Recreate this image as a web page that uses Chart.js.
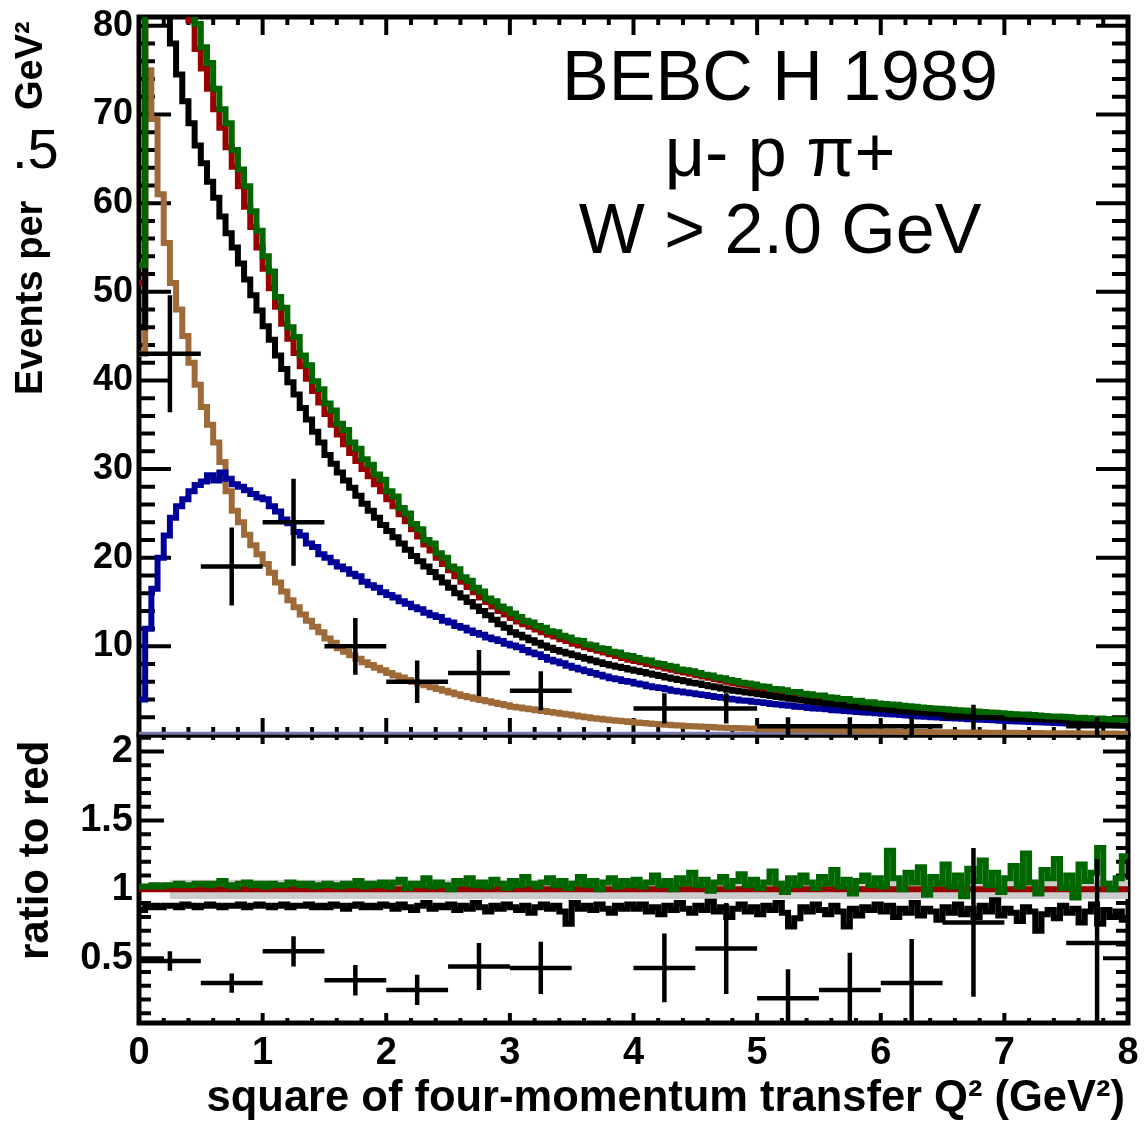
<!DOCTYPE html>
<html lang="en">
<head>
<meta charset="UTF-8">
<title>BEBC H 1989 - Q2 distribution</title>
<script src="https://cdn.jsdelivr.net/npm/chart.js"></script>
<style>
  html, body { margin: 0; padding: 0; background: #fff; }
  #wrap { width: 1144px; height: 1126px; }
</style>
</head>
<body>
<div id="wrap"><canvas id="q2Chart" width="1144" height="1126"></canvas></div>
<script>
// --- bins (lower edges, 0.05 GeV^2 wide) ---
const binWidth = 0.05;
const q2Max = 8;
const q2Low = Array.from({ length: 160 }, (_, i) => Math.round(i * binWidth * 100) / 100);

// --- MC histograms, top panel ---
const greenMC = [
  53, 175, 150, 130, 114, 103, 95, 88.5, 83.5, 80.2, 77.6, 75.8, 72.9, 70.6, 69.0, 66.0, 63.8, 61.9, 59.1, 56.9,
  54.0, 52.3, 49.4, 48.2, 46.0, 44.9, 42.8, 41.7, 39.9, 39.0, 37.4, 36.6, 35.1, 34.4, 33.0, 32.3, 31.1, 30.5, 29.4, 28.8,
  27.5, 26.9, 25.6, 25.0, 23.8, 23.2, 22.0, 21.6, 20.5, 20.0, 19.0, 18.7, 17.8, 17.4, 16.6, 16.2, 15.4, 15.1, 14.5, 14.2,
  13.7, 13.3, 12.9, 12.7, 12.3, 12.1, 11.7, 11.6, 11.2, 11.0, 10.7, 10.6, 10.2, 10.1, 9.8, 9.7, 9.4, 9.3, 9.0, 8.9,
  8.7, 8.5, 8.4, 8.1, 8.0, 7.8, 7.7, 7.4, 7.3, 7.2, 7.0, 6.8, 6.7, 6.5, 6.4, 6.2, 6.1, 5.9, 5.8, 5.7,
  5.5, 5.45, 5.2, 5.15, 5.05, 4.85, 4.85, 4.65, 4.6, 4.45, 4.45, 4.25, 4.2, 4.05, 4.05, 3.85, 3.85, 3.7, 3.7, 3.55,
  3.5, 3.45, 3.4, 3.3, 3.25, 3.2, 3.1, 3.05, 3.0, 2.95, 2.9, 2.85, 2.8, 2.75, 2.7, 2.65, 2.6, 2.55, 2.5, 2.45,
  2.4, 2.35, 2.3, 2.3, 2.25, 2.2, 2.15, 2.1, 2.1, 2.05, 2.0, 1.95, 1.95, 1.9, 1.85, 1.85, 1.8, 1.75, 1.75, 1.7
];
const redMC = [
  51, 170, 146, 126, 110, 100, 92, 85.5, 80.6, 77.4, 75.2, 72.9, 70.6, 68.5, 66.3, 64.1, 61.9, 59.6, 57.3, 55.0,
  52.6, 50.4, 48.3, 46.4, 44.7, 43.1, 41.6, 40.2, 38.8, 37.5, 36.2, 35.0, 33.9, 32.8, 31.8, 30.9, 30.0, 29.2, 28.3, 27.5,
  26.6, 25.8, 24.9, 24.1, 23.2, 22.4, 21.5, 20.8, 20.0, 19.3, 18.6, 17.9, 17.3, 16.7, 16.1, 15.5, 15.0, 14.5, 14.0, 13.6,
  13.2, 12.8, 12.5, 12.2, 11.9, 11.6, 11.3, 11.1, 10.8, 10.6, 10.3, 10.1, 9.9, 9.7, 9.5, 9.3, 9.1, 8.9, 8.7, 8.5,
  8.35, 8.2, 8.0, 7.85, 7.7, 7.5, 7.35, 7.2, 7.05, 6.9, 6.75, 6.6, 6.45, 6.3, 6.15, 6.0, 5.85, 5.7, 5.6, 5.45,
  5.3, 5.2, 5.1, 4.95, 4.85, 4.75, 4.65, 4.55, 4.45, 4.35, 4.25, 4.15, 4.05, 3.95, 3.85, 3.78, 3.7, 3.62, 3.55, 3.47,
  3.4, 3.33, 3.27, 3.2, 3.14, 3.08, 3.0, 2.95, 2.9, 2.85, 2.8, 2.75, 2.7, 2.65, 2.6, 2.55, 2.5, 2.45, 2.4, 2.36,
  2.32, 2.28, 2.24, 2.2, 2.16, 2.12, 2.08, 2.04, 2.0, 1.97, 1.94, 1.9, 1.87, 1.84, 1.8, 1.77, 1.74, 1.71, 1.68, 1.65
];
const blackMC = [
  46, 130, 108, 93, 83, 78, 74.5, 71.5, 69, 66.5, 64.5, 62.4, 60.6, 58.5, 56.6, 55.0, 53.2, 51.4, 49.6, 47.9,
  46.1, 44.6, 42.8, 41.3, 39.8, 38.4, 36.9, 35.6, 34.2, 33.0, 31.6, 30.6, 29.6, 28.7, 27.9, 27.0, 26.1, 25.3, 24.5, 23.7,
  23.0, 22.3, 21.6, 20.9, 20.2, 19.6, 19.0, 18.4, 17.8, 17.2, 16.6, 16.0, 15.5, 15.0, 14.5, 14.0, 13.5, 13.0, 12.5, 12.1,
  11.6, 11.3, 11.0, 10.7, 10.4, 10.1, 9.85, 9.6, 9.4, 9.2, 9.0, 8.8, 8.6, 8.4, 8.2, 8.0, 7.85, 7.7, 7.55, 7.4,
  7.25, 7.1, 6.95, 6.8, 6.65, 6.5, 6.35, 6.2, 6.05, 5.9, 5.8, 5.65, 5.5, 5.4, 5.25, 5.1, 5.0, 4.9, 4.8, 4.7,
  4.6, 4.5, 4.4, 4.3, 4.2, 4.1, 4.0, 3.9, 3.8, 3.72, 3.64, 3.56, 3.48, 3.4, 3.32, 3.25, 3.18, 3.11, 3.04, 2.97,
  2.9, 2.84, 2.78, 2.72, 2.66, 2.6, 2.55, 2.5, 2.45, 2.4, 2.35, 2.3, 2.26, 2.22, 2.18, 2.14, 2.1, 2.06, 2.02, 1.98,
  1.94, 1.9, 1.86, 1.83, 1.8, 1.77, 1.74, 1.71, 1.68, 1.65, 1.62, 1.59, 1.56, 1.53, 1.5, 1.47, 1.44, 1.42, 1.4, 1.38
];
const blueMC = [
  4.0, 12.0, 16.5, 20.0, 22.5, 24.5, 25.8, 26.6, 27.5, 28.2, 28.6, 29.3, 28.7, 29.6, 28.9, 28.3, 28.0, 27.6, 27.2, 26.8,
  26.6, 25.8, 25.2, 24.3, 23.9, 22.9, 22.5, 21.6, 21.2, 20.4, 20.0, 19.5, 19.0, 18.7, 18.2, 17.9, 17.3, 16.9, 16.6, 16.1,
  15.8, 15.5, 15.1, 14.8, 14.4, 14.2, 13.8, 13.5, 13.3, 12.9, 12.7, 12.3, 12.1, 11.8, 11.5, 11.3, 11.0, 10.8, 10.6, 10.3,
  10.1, 9.9, 9.6, 9.3, 9.1, 8.8, 8.5, 8.3, 8.1, 7.8, 7.6, 7.4, 7.2, 7.0, 6.8, 6.6, 6.4, 6.3, 6.1, 6.0,
  5.8, 5.7, 5.5, 5.4, 5.3, 5.15, 5.0, 4.9, 4.8, 4.7, 4.6, 4.5, 4.4, 4.3, 4.2, 4.1, 4.0, 3.9, 3.85, 3.75,
  3.7, 3.6, 3.5, 3.45, 3.35, 3.3, 3.2, 3.15, 3.05, 3.0, 2.95, 2.9, 2.8, 2.75, 2.7, 2.65, 2.6, 2.55, 2.5, 2.45,
  2.4, 2.35, 2.3, 2.25, 2.2, 2.15, 2.1, 2.05, 2.0, 1.97, 1.93, 1.9, 1.86, 1.82, 1.78, 1.75, 1.72, 1.68, 1.65, 1.62,
  1.58, 1.55, 1.52, 1.49, 1.46, 1.43, 1.4, 1.38, 1.35, 1.32, 1.3, 1.27, 1.25, 1.22, 1.2, 1.17, 1.15, 1.12, 1.1, 1.08
];
const brownMC = [
  43, 75, 69.5, 61, 55.5, 51, 48, 45, 42, 39.5, 37, 35, 33, 30.8, 27.5, 25.3, 24.0, 22.6, 21.4, 20.4,
  19.3, 18.3, 17.2, 16.2, 15.2, 14.4, 13.6, 12.9, 12.2, 11.6, 10.9, 10.4, 9.8, 9.4, 9.0, 8.6, 8.2, 7.9, 7.6, 7.3,
  7.0, 6.7, 6.5, 6.2, 6.0, 5.8, 5.6, 5.4, 5.2, 5.0, 4.8, 4.6, 4.4, 4.25, 4.1, 3.95, 3.8, 3.65, 3.5, 3.35,
  3.2, 3.1, 3.0, 2.9, 2.8, 2.7, 2.6, 2.5, 2.4, 2.3, 2.2, 2.1, 2.0, 1.9, 1.82, 1.74, 1.66, 1.6, 1.54, 1.47,
  1.4, 1.35, 1.3, 1.25, 1.2, 1.15, 1.1, 1.06, 1.02, 0.98, 0.95, 0.92, 0.89, 0.86, 0.83, 0.8, 0.78, 0.76, 0.74, 0.72,
  0.7, 0.68, 0.66, 0.64, 0.62, 0.6, 0.59, 0.57, 0.56, 0.54, 0.53, 0.51, 0.5, 0.49, 0.47, 0.46, 0.45, 0.44, 0.42, 0.41,
  0.4, 0.39, 0.38, 0.37, 0.36, 0.35, 0.34, 0.33, 0.32, 0.31, 0.31, 0.3, 0.29, 0.29, 0.28, 0.27, 0.27, 0.26, 0.26, 0.25,
  0.25, 0.24, 0.23, 0.23, 0.22, 0.22, 0.21, 0.21, 0.2, 0.2, 0.19, 0.19, 0.18, 0.18, 0.17, 0.17, 0.16, 0.16, 0.15, 0.15
];
const emptyMC = 0.2;   // the empty histogram sitting on the axis

// --- ratio to red, bottom panel ---
const greenRatio = [
  1.02, 1.02, 1.03, 1.02, 1.03, 1.03, 1.04, 1.03, 1.03, 1.04, 1.04, 1.03, 1.04, 1.06, 1.03, 1.02, 1.04, 1.05, 1.03, 1.04,
  1.02, 1.04, 1.03, 1.03, 1.05, 1.04, 1.03, 1.04, 1.02, 1.03, 1.04, 1.03, 1.02, 1.04, 1.03, 1.06, 1.02, 1.04, 1.03, 1.05,
  1.02, 1.05, 1.07, 1.01, 1.04, 1.03, 1.08, 1.02, 1.05, 1.03, 1.00, 1.06, 1.04, 1.08, 1.03, 1.05, 1.02, 1.07, 1.04, 1.01,
  1.06, 1.03, 1.09, 1.04, 1.02, 1.05, 1.08, 1.03, 1.06, 1.01, 1.04, 1.09, 1.03, 1.06, 1.00, 1.05, 1.08, 1.02, 1.06, 1.03,
  1.07, 1.02, 1.05, 1.10, 1.03, 1.06, 1.00, 1.08, 1.04, 1.12, 1.03, 1.07, 0.99, 1.05, 1.09, 1.02, 1.06, 1.11, 1.03, 1.07,
  1.01, 1.05, 1.13, 1.04, 0.98, 1.08, 1.03, 1.10, 1.05, 1.01, 1.09, 1.04, 1.14, 1.02, 1.07, 0.97, 1.06, 1.10, 1.03, 1.08,
  1.02, 1.28, 1.08, 1.00, 1.12, 1.05, 1.16, 0.96, 1.09, 1.04, 1.18, 1.02, 1.10, 0.95, 1.15, 1.06, 1.21, 1.03, 1.12, 0.98,
  1.08, 1.17, 1.02, 1.26, 1.05, 0.97, 1.14, 1.08, 1.22, 1.01, 1.10, 0.94, 1.18, 1.06, 1.12, 1.30, 1.04, 1.00, 1.08, 1.24
];
const blackRatio = [
  0.85, 0.87, 0.88, 0.87, 0.88, 0.88, 0.87, 0.89, 0.88, 0.87, 0.88, 0.89, 0.88, 0.87, 0.88, 0.88, 0.89, 0.87, 0.88, 0.89,
  0.88, 0.87, 0.88, 0.89, 0.87, 0.88, 0.88, 0.89, 0.87, 0.88, 0.87, 0.89, 0.88, 0.86, 0.88, 0.89, 0.87, 0.88, 0.87, 0.89,
  0.88, 0.86, 0.89, 0.87, 0.85, 0.88, 0.90, 0.86, 0.88, 0.87, 0.89, 0.85, 0.88, 0.86, 0.90, 0.87, 0.84, 0.88, 0.86, 0.89,
  0.87, 0.85, 0.88, 0.83, 0.87, 0.89, 0.86, 0.88, 0.84, 0.75, 0.90, 0.86, 0.88, 0.85, 0.89, 0.86, 0.83, 0.88, 0.86, 0.89,
  0.86, 0.89, 0.84, 0.87, 0.82, 0.88, 0.85, 0.90, 0.86, 0.83, 0.88, 0.85, 0.91, 0.84, 0.87, 0.80, 0.86, 0.89, 0.84, 0.87,
  0.82, 0.88, 0.85, 0.90, 0.83, 0.73, 0.79, 0.87, 0.84, 0.89, 0.85, 0.82, 0.88, 0.84, 0.73, 0.86, 0.81, 0.87, 0.85, 0.89,
  0.84, 0.88, 0.80, 0.86, 0.83, 0.90, 0.81, 0.86, 0.84, 0.78, 0.87, 0.83, 0.89, 0.82, 0.86, 0.80, 0.88, 0.84, 0.92, 0.81,
  0.86, 0.83, 0.77, 0.87, 0.84, 0.70, 0.82, 0.85, 0.79, 0.88, 0.83, 0.86, 0.76, 0.84, 0.89, 0.75, 0.85, 0.80, 0.84, 0.78
];
const redRatio = 1;
const bandLow = 0.93, bandHigh = 1.07, bandStart = 0.25;

// --- BEBC data, 0.5 GeV^2 bins ---
const dataQ2 = [0.25, 0.75, 1.25, 1.75, 2.25, 2.75, 3.25, 3.75, 4.25, 4.75, 5.25, 5.75, 6.25, 6.75, 7.25, 7.75];
const dataHalfWidth = 0.25;
const dataEvents = [43, 19, 24, 10, 6, 7, 5, null, 3, 3, 1, 1, 1, 2, null, 1];
const dataErr = [6.6, 4.4, 4.9, 3.2, 2.4, 2.6, 2.2, null, 1.7, 1.7, 1.0, 1.0, 1.0, 1.4, null, 1.0];
const dataRatio = [0.48, 0.32, 0.55, 0.34, 0.27, 0.44, 0.43, null, 0.43, 0.57, 0.21, 0.27, 0.32, 0.76, null, 0.61];
const dataRatioErr = [0.07, 0.07, 0.11, 0.11, 0.11, 0.17, 0.19, null, 0.25, 0.33, 0.21, 0.27, 0.32, 0.54, null, 0.61];

const FONT = "'Liberation Sans', Arial, Helvetica, sans-serif";

function histPoints(values) {
  const pts = values.map((v, i) => ({ x: q2Low[i], y: v }));
  pts.push({ x: q2Max, y: values[values.length - 1] });
  return pts;
}

function crossPoints(vals, errs) {
  const pts = [];
  dataQ2.forEach((c, i) => {
    if (vals[i] === null) return;
    pts.push({ x: c - dataHalfWidth, y: vals[i] }, { x: c + dataHalfWidth, y: vals[i] }, { x: c, y: null });
    pts.push({ x: c, y: vals[i] - errs[i] }, { x: c, y: vals[i] + errs[i] }, { x: c, y: null });
  });
  return pts;
}

function hist(label, values, color, axis) {
  return {
    label, data: histPoints(values), yAxisID: axis,
    borderColor: color, borderWidth: 6, stepped: true,
    pointRadius: 0, fill: false, borderJoinStyle: 'miter'
  };
}

function flat(label, value, from, color, width, axis, extra) {
  return Object.assign({
    label, data: [{ x: from, y: value }, { x: q2Max, y: value }], yAxisID: axis,
    borderColor: color, borderWidth: width, pointRadius: 0, fill: false
  }, extra || {});
}

function crosses(label, vals, errs, axis) {
  return {
    label, data: crossPoints(vals, errs), yAxisID: axis,
    borderColor: '#000', borderWidth: 4.5, pointRadius: 0, spanGaps: false,
    fill: false, borderCapStyle: 'butt'
  };
}

// frame + inward ticks on all four sides of a pad, ROOT style
function drawPad(ctx, xs, ys, t) {
  const L = xs.left, R = xs.right, T = ys.top, B = ys.bottom;
  ctx.save();
  ctx.strokeStyle = '#000';
  ctx.lineCap = 'butt';
  ctx.lineWidth = 4;
  ctx.beginPath();
  const k0 = Math.ceil(ys.min / t.yMinor - 1e-6), k1 = Math.floor(ys.max / t.yMinor + 1e-6);
  for (let k = k0; k <= k1; k++) {
    const py = ys.getPixelForValue(k * t.yMinor);
    const len = k % t.yPer === 0 ? t.yMaj : t.yMin;
    ctx.moveTo(L, py); ctx.lineTo(L + len, py);
    ctx.moveTo(R, py); ctx.lineTo(R - len, py);
  }
  for (let k = 0; k <= 40; k++) {
    const px = xs.getPixelForValue(k * 0.2);
    const major = k % 5 === 0;
    ctx.moveTo(px, B); ctx.lineTo(px, B - (major ? t.bMaj : t.bMin));
    ctx.moveTo(px, T); ctx.lineTo(px, T + (major ? t.tMaj : t.tMin));
  }
  ctx.stroke();
  ctx.lineWidth = 5;
  ctx.strokeRect(L, T, R - L, B - T);
  ctx.restore();
}

const padDecor = {
  id: 'padDecor',
  beforeDatasetsDraw(chart) {
    const ctx = chart.ctx, xs = chart.scales.x;
    drawPad(ctx, xs, chart.scales.y, { yMinor: 2, yPer: 5, yMaj: 32, yMin: 16, bMaj: 17, bMin: 8, tMaj: 18, tMin: 8 });
    drawPad(ctx, xs, chart.scales.yr, { yMinor: 0.1, yPer: 5, yMaj: 25, yMin: 12, bMaj: 10, bMin: 5, tMaj: 9, tMin: 5 });
  },
  afterDraw(chart) {
    const ctx = chart.ctx;
    ctx.save();
    ctx.fillStyle = '#000';
    ctx.textBaseline = 'alphabetic';
    ctx.textAlign = 'left';

    ctx.font = 'bold 38px ' + FONT;
    ctx.save(); ctx.translate(42, 395); ctx.rotate(-Math.PI / 2); ctx.fillText('Events per', 0, 0); ctx.restore();
    ctx.save(); ctx.translate(42, 110); ctx.rotate(-Math.PI / 2); ctx.fillText('GeV²', 0, 0); ctx.restore();
    ctx.font = '56px ' + FONT;
    ctx.fillText('.5', 12, 168);

    ctx.font = 'bold 42px ' + FONT;
    ctx.save(); ctx.translate(48, 960); ctx.rotate(-Math.PI / 2); ctx.fillText('ratio to red', 0, 0); ctx.restore();

    ctx.font = 'bold 43.5px ' + FONT;
    ctx.textAlign = 'right';
    ctx.fillText('square of four-momentum transfer Q² (GeV²)', 1125, 1111);

    ctx.textAlign = 'center';
    ctx.font = '70px ' + FONT;
    ctx.fillText('BEBC H 1989', 780, 100);
    ctx.fillText('μ- p π+', 780, 176);
    ctx.fillText('W > 2.0 GeV', 780, 253);
    ctx.restore();
  }
};

const tickFont = (size) => ({ family: FONT, size: size, weight: 'bold' });
const noPad = (s) => { s.paddingTop = 0; s.paddingBottom = 0; s.paddingLeft = 0; s.paddingRight = 0; };

new Chart(document.getElementById('q2Chart'), {
  type: 'line',
  data: {
    datasets: [
      crosses('BEBC data', dataEvents, dataErr, 'y'),
      crosses('data / red', dataRatio, dataRatioErr, 'yr'),
      hist('green', greenMC, '#006600', 'y'),
      hist('black', blackMC, '#000000', 'y'),
      hist('red', redMC, '#990000', 'y'),
      hist('blue', blueMC, '#000099', 'y'),
      hist('brown', brownMC, '#9e6a38', 'y'),
      flat('empty', emptyMC, 0, '#7a7aaa', 3, 'y'),
      hist('green / red', greenRatio, '#006600', 'yr'),
      hist('black / red', blackRatio, '#000000', 'yr'),
      flat('red / red', redRatio, 0, '#990000', 6, 'yr'),
      flat('band up', bandHigh, bandStart, 'rgba(0,0,0,0)', 0, 'yr', { fill: '+1', backgroundColor: '#cccccc' }),
      flat('band low', bandLow, bandStart, 'rgba(0,0,0,0)', 0, 'yr')
    ]
  },
  options: {
    responsive: false,
    animation: false,
    events: [],
    layout: { padding: { top: 17, right: 16, left: 0, bottom: 0 } },
    plugins: { legend: { display: false }, tooltip: { enabled: false } },
    scales: {
      x: {
        type: 'linear', position: 'bottom', min: 0, max: q2Max,
        grid: { display: false, drawTicks: false }, border: { display: false },
        ticks: { stepSize: 1, autoSkip: false, maxRotation: 0, includeBounds: false,
                 padding: 8, color: '#000', font: tickFont(38) },
        afterFit(s) { s.height = 103; noPad(s); }
      },
      y: {
        type: 'linear', position: 'left', stack: 'pads', stackWeight: 718, weight: 2,
        min: 0, max: 81,
        grid: { display: false, drawTicks: false }, border: { display: false },
        ticks: { stepSize: 10, autoSkip: false, includeBounds: false, padding: 6,
                 color: '#000', font: tickFont(36), callback: v => (v === 0 ? '' : String(v)) },
        afterFit(s) { s.width = 139; noPad(s); }
      },
      yr: {
        type: 'linear', position: 'left', stack: 'pads', stackWeight: 288, weight: 1,
        min: 0.03, max: 2.12,
        grid: { display: false, drawTicks: false }, border: { display: false },
        ticks: { stepSize: 0.5, autoSkip: false, includeBounds: false, padding: 6,
                 color: '#000', font: tickFont(38), callback: v => String(v) },
        afterFit(s) { s.width = 139; noPad(s); }
      }
    }
  },
  plugins: [padDecor]
});
</script>
</body>
</html>
